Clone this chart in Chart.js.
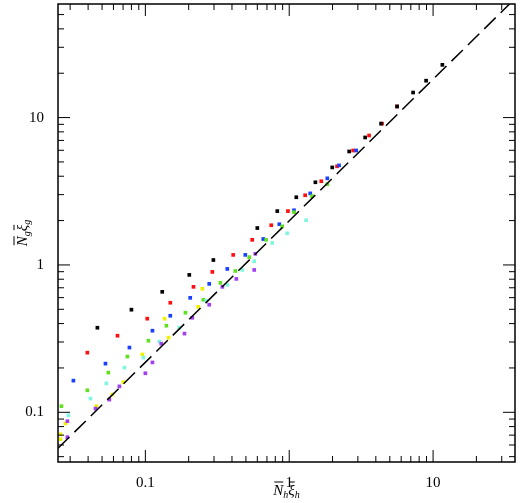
<!DOCTYPE html>
<html><head><meta charset="utf-8">
<script src="https://cdn.jsdelivr.net/npm/chart.js@4"></script>
<style>html,body{margin:0;padding:0;background:#fff}#w{width:520px;height:503px}</style>
</head><body><div id="w"><canvas id="c"></canvas></div>
<script>
const blackX=[0.0464,0.080,0.131,0.202,0.297,0.60,0.826,1.12,1.52,1.99,2.61,3.37,4.35,5.62,7.26,8.94,11.6];
const blackY=[0.375,0.497,0.657,0.856,1.08,1.78,2.32,2.88,3.64,4.59,5.89,7.33,9.1,11.9,14.8,17.8,22.8];
const redX=[0.0395,0.064,0.103,0.149,0.216,0.292,0.408,0.553,0.75,0.98,1.29,1.67,2.15,2.78,3.59,4.42,5.62];
const redY=[0.254,0.331,0.432,0.554,0.71,0.897,1.17,1.48,1.86,2.32,2.97,3.70,4.67,5.98,7.56,9.1,11.9];
const blueX=[0.0316,0.0528,0.0775,0.112,0.149,0.205,0.278,0.371,0.495,0.66,0.853,1.08,1.40,1.84,2.22,2.92];
const blueY=[0.164,0.214,0.275,0.358,0.452,0.598,0.744,0.94,1.17,1.5,1.89,2.35,3.06,3.87,4.74,5.98];
const greenX=[0.0261,0.0395,0.0553,0.075,0.105,0.14,0.19,0.253,0.332,0.422,0.527,0.69,0.894,1.08,1.44,1.84];
const greenY=[0.11,0.141,0.186,0.239,0.306,0.387,0.474,0.58,0.756,0.91,1.13,1.48,1.83,2.28,2.93,3.53];
const yellowX=[0.0257,0.0257,0.0278,0.0457,0.059,0.0703,0.0953,0.145,0.136,0.233,0.249];
const yellowY=[0.0657,0.071,0.084,0.11,0.132,0.16,0.247,0.321,0.432,0.52,0.689];
const cyanX=[0.0292,0.0415,0.0536,0.0715,0.0969,0.125,0.172,0.265,0.371,0.472,0.571,0.762,0.968,1.31];
const cyanY=[0.0955,0.124,0.157,0.201,0.235,0.302,0.375,0.571,0.733,0.925,1.06,1.41,1.64,2.01];
const purpleX=[0.0287,0.0287,0.045,0.0562,0.066,0.10,0.112,0.129,0.187,0.212,0.278,0.343,0.429,0.571,0.581];
const purpleY=[0.087,0.0678,0.106,0.122,0.15,0.184,0.218,0.292,0.342,0.438,0.537,0.71,0.804,0.925,1.19];
const lineX=[0.0247,34];
const lineY=[0.057,59];
const xMin=0.0247,xMax=37.1,yMin=0.046,yMax=59;
const tickVals=[0.1,1,10];

const pts=(xs,ys)=>xs.map((x,i)=>({x:x,y:ys[i]}));
const sq=(label,xs,ys,col)=>({label,data:pts(xs,ys),showLine:false,pointStyle:'rect',pointRadius:2.6,pointBackgroundColor:col,pointBorderWidth:0});

const ticksPlugin={id:'tk',afterDraw(ch){
  const c=ch.ctx,a=ch.chartArea,xs=ch.scales.x,ys=ch.scales.y;
  c.save();c.strokeStyle='#000';c.lineWidth=1;
  for(let e=-2;e<=1;e++)for(let m=1;m<=9;m++){
    const v=m*Math.pow(10,e);const L=m===1?12:6;
    if(v>=xMin&&v<=xMax){const p=xs.getPixelForValue(v);c.beginPath();c.moveTo(p,a.bottom);c.lineTo(p,a.bottom-L);c.moveTo(p,a.top);c.lineTo(p,a.top+L);c.stroke();}
    if(v>=yMin&&v<=yMax){const p=ys.getPixelForValue(v);c.beginPath();c.moveTo(a.left,p);c.lineTo(a.left+L,p);c.moveTo(a.right,p);c.lineTo(a.right-L,p);c.stroke();}
  }
  c.lineWidth=1.5;c.strokeRect(a.left,a.top,a.right-a.left,a.bottom-a.top);
  c.fillStyle='#000';
  const drawT=(x,y,parts)=>{let w=0;parts.forEach(p=>{c.font=p[1];w+=c.measureText(p[0]).width;});let cx=x-w/2;
    parts.forEach(p=>{c.font=p[1];c.textAlign='left';c.textBaseline='alphabetic';const pw=c.measureText(p[0]).width;c.fillText(p[0],cx,y+p[2]);
      if(p[3]){c.lineWidth=1;c.beginPath();c.moveTo(cx+1,y-13);c.lineTo(cx+pw,y-13);c.stroke();}cx+=pw;});};
  const big='italic 15px "Liberation Serif"',sm='italic 10px "Liberation Serif"';
  drawT((a.left+a.right)/2,495,[['N',big,0,1],['h',sm,3,0],['ξ',big,0,1],['h',sm,3,0]]);
  c.save();c.translate(22,(a.top+a.bottom)/2);c.rotate(-Math.PI/2);
  drawT(0,5,[['N',big,0,1],['g',sm,3,0],['ξ',big,0,1],['g',sm,3,0]]);c.restore();
  c.restore();
}};

new Chart(document.getElementById('c'),{type:'scatter',
 data:{datasets:[
  {label:'line',data:pts(lineX,lineY),showLine:true,borderColor:'#000',borderWidth:1.5,borderDash:[16,7],pointRadius:0,fill:false},
  sq('purple',purpleX,purpleY,'#a040f0'),
  sq('cyan',cyanX,cyanY,'#80f5e0'),
  sq('yellow',yellowX,yellowY,'#f0f000'),
  sq('green',greenX,greenY,'#60e020'),
  sq('blue',blueX,blueY,'#1a40ff'),
  sq('black',blackX,blackY,'#000'),
  sq('red',redX,redY,'#ff1010')
 ]},
 options:{responsive:true,maintainAspectRatio:false,animation:false,
  layout:{padding:{top:2,right:5,left:0,bottom:0}},
  plugins:{legend:{display:false},tooltip:{enabled:false}},
  scales:{
   x:{type:'logarithmic',min:xMin,max:xMax,grid:{display:false},border:{display:false},
     afterFit(s){s.height=41;s.paddingLeft=0;s.paddingRight=0;},
     afterBuildTicks(s){s.ticks=tickVals.map(v=>({value:v}));},
     ticks:{color:'#000',font:{family:'Liberation Serif',size:15},padding:4,maxRotation:0,callback:v=>String(v)}},
   y:{type:'logarithmic',min:yMin,max:yMax,grid:{display:false},border:{display:false},
     afterFit(s){s.width=58;s.paddingTop=0;s.paddingBottom=0;},
     afterBuildTicks(s){s.ticks=tickVals.map(v=>({value:v}));},
     ticks:{color:'#000',font:{family:'Liberation Serif',size:15},padding:6,callback:v=>String(v)}}
  }},
 plugins:[ticksPlugin]});
</script></body></html>
